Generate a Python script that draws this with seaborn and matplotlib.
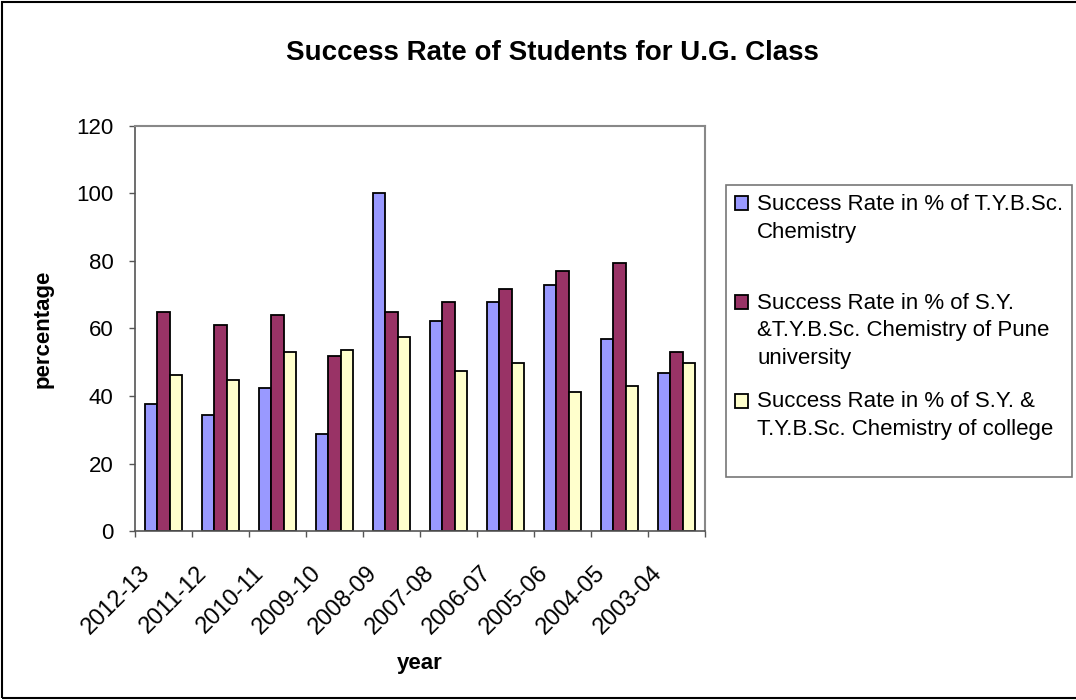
import numpy as np
import pandas as pd
import seaborn as sns
from matplotlib import pyplot as plt
from matplotlib.patches import Rectangle
from matplotlib.legend_handler import HandlerPatch
from matplotlib.transforms import ScaledTranslation

years = ["2012-13", "2011-12", "2010-11", "2009-10", "2008-09",
         "2007-08", "2006-07", "2005-06", "2004-05", "2003-04"]
tybsc = [37.8, 34.4, 42.4, 28.7, 100.0, 62.1, 67.7, 72.8, 57.0, 46.9]
pune = [64.9, 60.9, 63.9, 51.9, 64.9, 67.7, 71.7, 76.9, 79.5, 53.1]
college = [46.3, 44.7, 53.1, 53.6, 57.5, 47.4, 49.7, 41.1, 42.9, 49.7]

series_names = [
    "Success Rate in % of T.Y.B.Sc.\nChemistry\n",
    "Success Rate in % of S.Y.\n&T.Y.B.Sc. Chemistry of Pune\nuniversity",
    "Success Rate in % of S.Y. &\nT.Y.B.Sc. Chemistry of college\n",
]
colors = ["#9999FF", "#993366", "#FFFFCC"]

df = pd.DataFrame({
    "year": years * 3,
    "series": np.repeat(series_names, len(years)),
    "value": tybsc + pune + college,
})


# legend square sits next to the first line of its label, like Excel
class TopHandler(HandlerPatch):
    def __init__(self, shift):
        super().__init__()
        self.shift = shift

    def create_artists(self, legend, orig_handle, xdescent, ydescent,
                       width, height, fontsize, trans):
        p = Rectangle((-xdescent, -ydescent + self.shift), width, height)
        self.update_prop(p, orig_handle, legend)
        p.set_transform(trans)
        return [p]


sns.set_style("white")
plt.rcParams["font.family"] = ["Liberation Sans", "DejaVu Sans"]
plt.rcParams["text.color"] = "black"
plt.rcParams["axes.labelcolor"] = "black"
plt.rcParams["xtick.color"] = "black"
plt.rcParams["ytick.color"] = "black"

fig = plt.figure(figsize=(10.76, 7.0), dpi=100)
ax = fig.add_axes([0.1255, 0.241, 0.5297, 0.5795])

sns.barplot(data=df, x="year", y="value", hue="series", order=years,
            hue_order=series_names, palette=colors, width=0.66, gap=0,
            edgecolor="black", linewidth=1.3, saturation=1, ax=ax)

ax.set_xlim(-0.5, len(years) - 0.5)
ax.set_ylim(0, 120)
ax.set_yticks(range(0, 121, 20))
ax.tick_params(axis="y", left=True, labelsize=16, length=4.5, width=1,
               color="#555555", direction="out", pad=11)
ax.set_xticks(np.arange(len(years)))
ax.set_xticklabels(years, rotation=45, ha="right", va="top",
                   rotation_mode="anchor", fontsize=17)
ax.tick_params(axis="x", which="major", bottom=True, length=0, pad=22)
ax.set_xticks(np.arange(-0.5, len(years)), minor=True)
ax.tick_params(axis="x", which="minor", bottom=True, length=4.5, width=1,
               color="#555555", direction="out")
shift = ScaledTranslation(-25 / 100, 0, fig.dpi_scale_trans)
for lab in ax.get_xticklabels():
    lab.set_transform(lab.get_transform() + shift)

for side in ["top", "right"]:
    ax.spines[side].set_color("#888888")
    ax.spines[side].set_linewidth(1.5)
for side in ["left", "bottom"]:
    ax.spines[side].set_color("#555555")
    ax.spines[side].set_linewidth(1.2)

ax.set_xlabel("year", fontsize=16, fontweight="bold", labelpad=10)
ax.set_ylabel("percentage", fontsize=16, fontweight="bold", labelpad=16)
fig.text(0.513, 0.924, "Success Rate of Students for U.G. Class", fontsize=20,
         fontweight="bold", ha="center", va="center")

handles, labels = ax.get_legend_handles_labels()
ax.legend_.remove()
line_pt = 20.9
hmap = {h: TopHandler((lab.count("\n")) / 2 * line_pt) for h, lab in zip(handles, labels)}
leg = fig.legend(handles, labels, loc="upper left", bbox_to_anchor=(0.6747, 0.7357),
                 fontsize=16, frameon=True, fancybox=False, edgecolor="#555555",
                 handlelength=0.6, handleheight=0.6, handletextpad=0.4,
                 labelspacing=1.0, borderpad=0.4, borderaxespad=0, handler_map=hmap)
leg.get_frame().set_linewidth(1.2)
for t in leg.get_texts():
    t.set_linespacing(1.42)

fig.patches.append(Rectangle((0.002, 0.003), 1.2, 0.994, transform=fig.transFigure,
                             fill=False, edgecolor="black", linewidth=1.5))

fig.savefig("out.png", dpi=100)
